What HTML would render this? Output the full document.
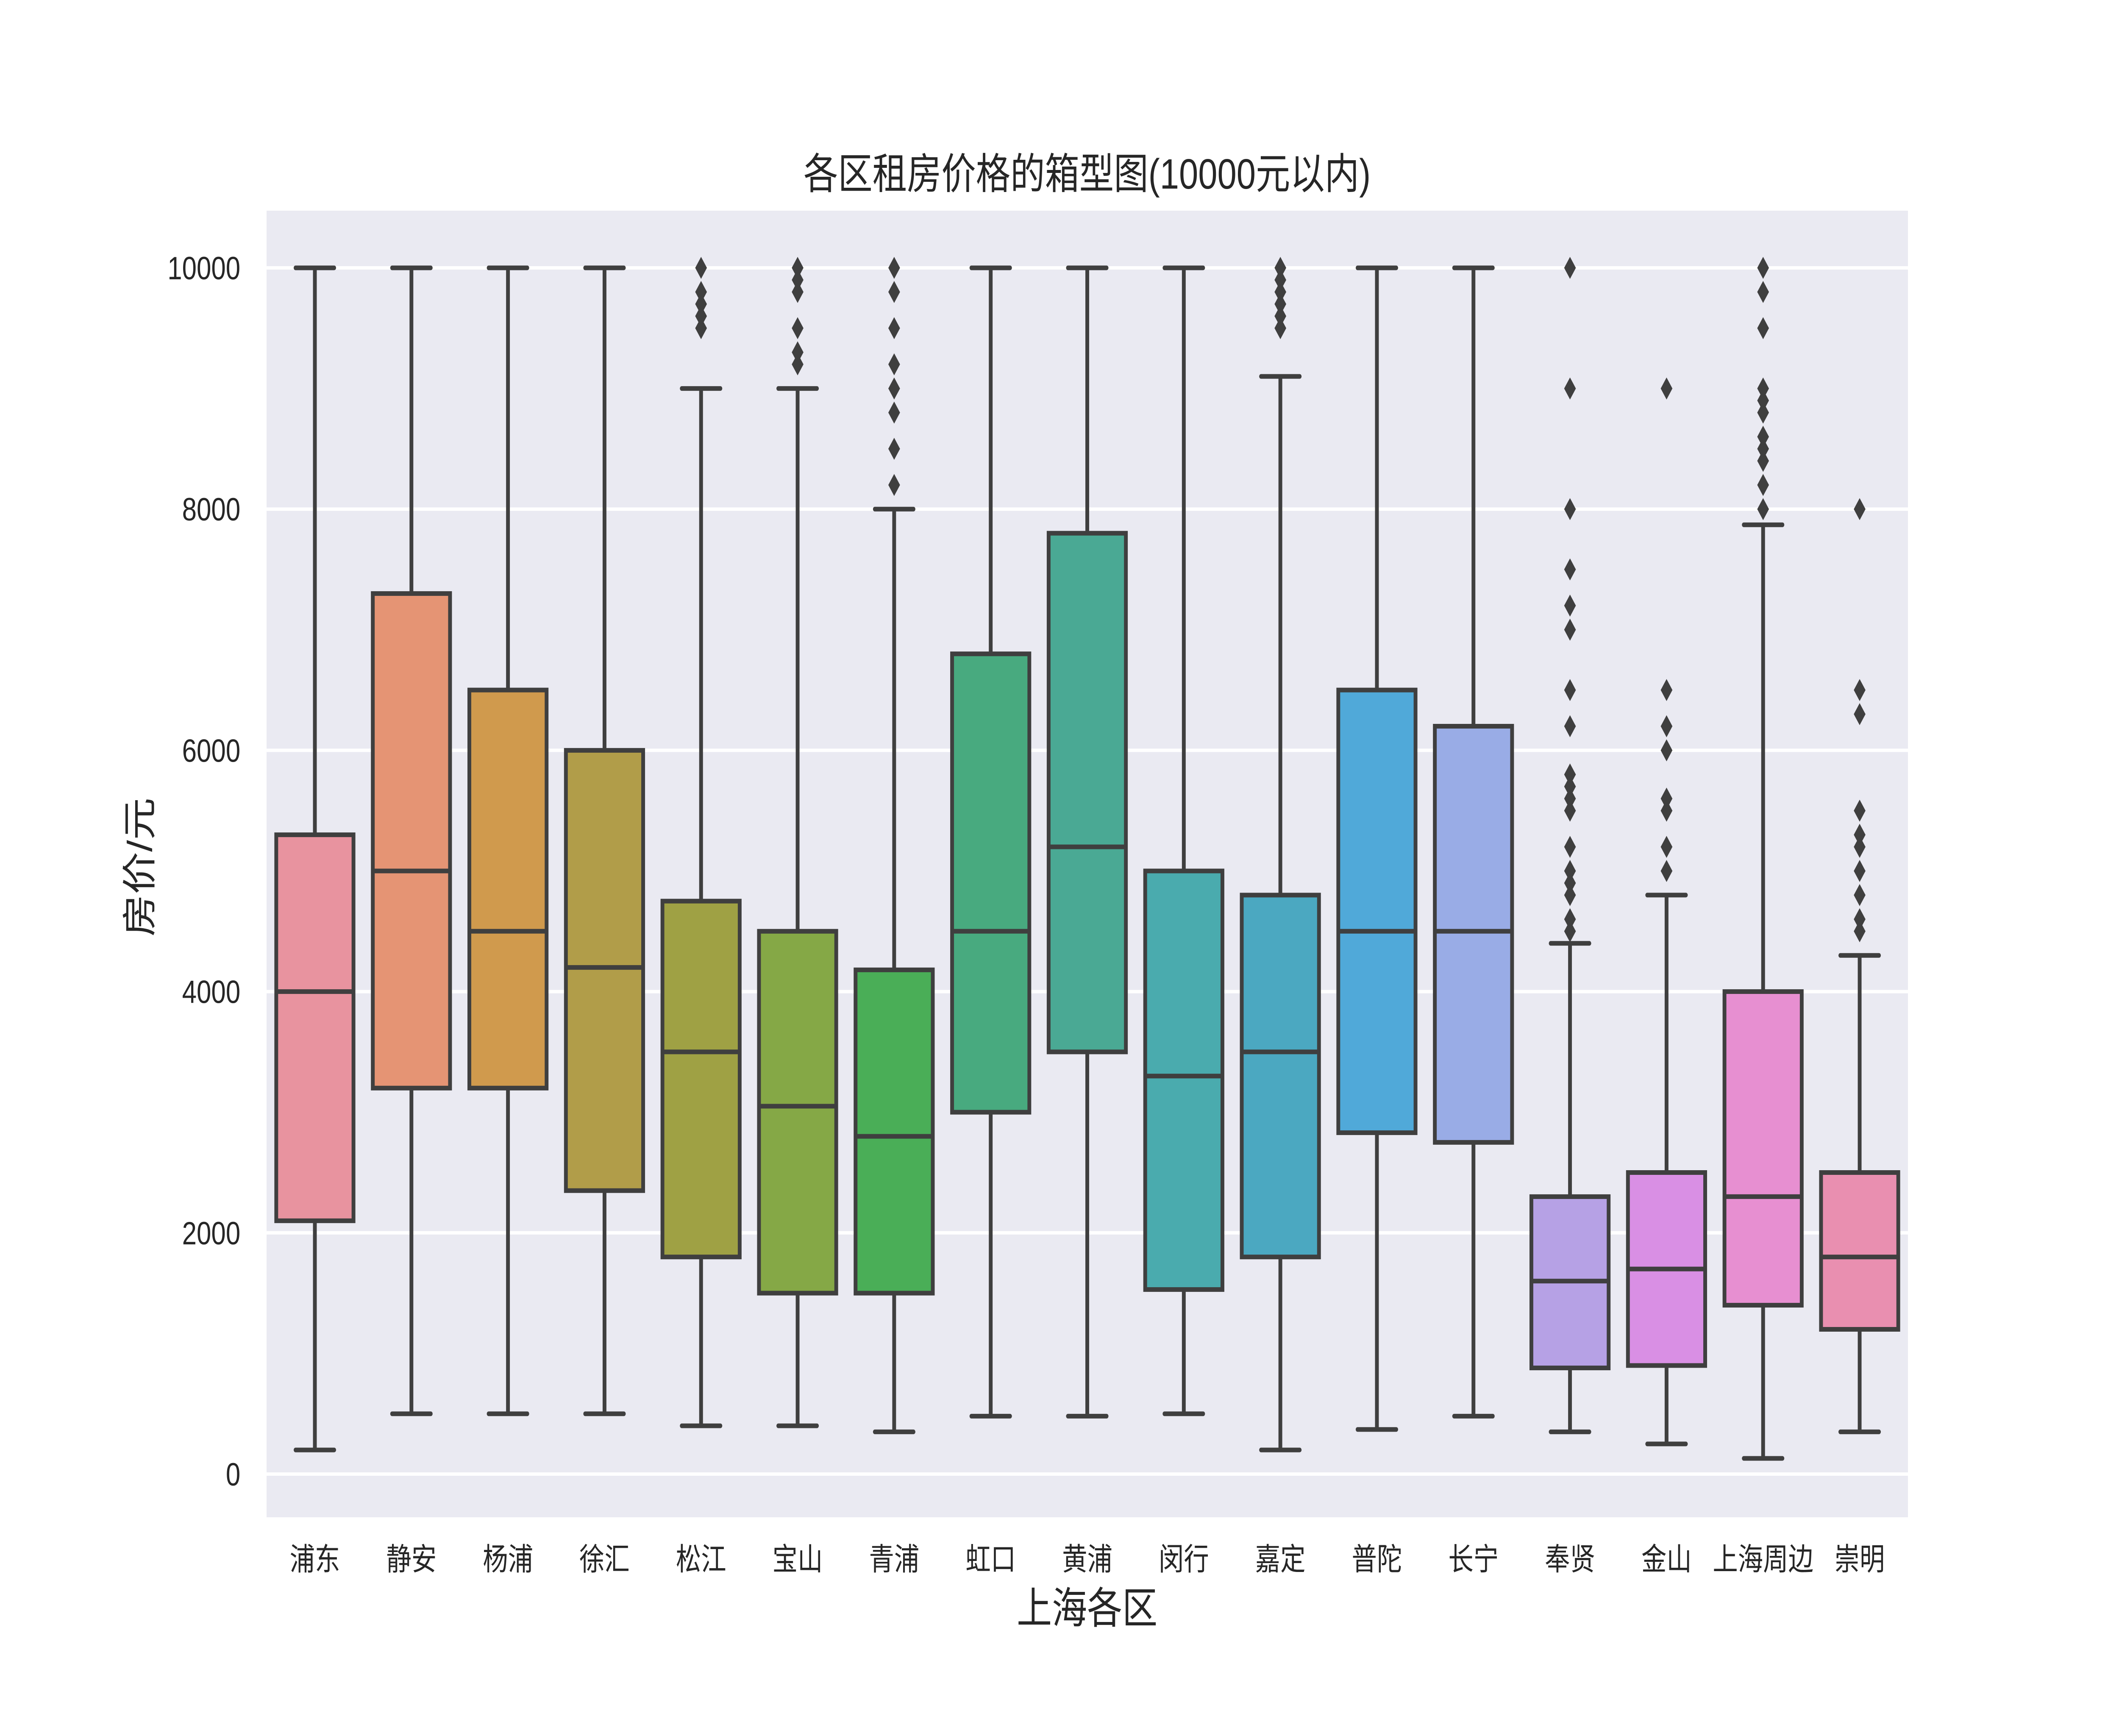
<!DOCTYPE html>
<html><head><meta charset="utf-8">
<style>
html,body{margin:0;padding:0;background:#fff;width:100%;height:100%;overflow:hidden;}
svg{display:block;width:100vw;height:100vh;}
text{font-family:"Liberation Sans","Noto Sans CJK SC",sans-serif;fill:#262626;}
</style></head>
<body>
<svg id="chart" viewBox="0 0 6144 4096" preserveAspectRatio="none" xmlns="http://www.w3.org/2000/svg">
<rect x="773" y="497" width="4759" height="3083" fill="#eaeaf2"/>
<g id="grid"></g>
<g id="boxes"></g>
<g id="yticks"></g>
<g id="xticks"></g>
<text x="3152" y="445" font-size="100" text-anchor="middle">各区租房价格的箱型图(10000元以内)</text>
<text x="3152" y="3830" font-size="102" text-anchor="middle">上海各区</text>
<text x="0" y="0" font-size="100" text-anchor="middle" transform="translate(440,2046) rotate(-90)">房价/元</text>
</svg>
<script>
const categories = ["浦东","静安","杨浦","徐汇","松江","宝山","青浦","虹口","黄浦","闵行","嘉定","普陀","长宁","奉贤","金山","上海周边","崇明"];
const whiskerLow = [200,500,500,500,400,400,350,480,480,500,200,370,480,350,250,130,350];
const q1 = [2100,3200,3200,2350,1800,1500,1500,3000,3500,1530,1800,2830,2750,880,900,1400,1200];
const median = [4000,5000,4500,4200,3500,3050,2800,4500,5200,3300,3500,4500,4500,1600,1700,2300,1800];
const q3 = [5300,7300,6500,6000,4750,4500,4180,6800,7800,5000,4800,6500,6200,2300,2500,4000,2500];
const whiskerHigh = [10000,10000,10000,10000,9000,9000,8000,10000,10000,10000,9100,10000,10000,4400,4800,7870,4300];
const outliers = [[],[],[],[],
 [9500,9600,9700,9800,10000],
 [9200,9300,9500,9800,9900,10000],
 [8200,8500,8800,9000,9200,9500,9800,10000],
 [],[],[],
 [9500,9600,9700,9800,9900,10000],
 [],[],
 [4500,4600,4800,4900,5000,5200,5500,5600,5700,5800,6200,6500,7000,7200,7500,8000,9000,10000],
 [5000,5200,5500,5600,6000,6200,6500,9000],
 [8000,8200,8400,8500,8600,8800,8900,9000,9500,9800,10000],
 [4500,4600,4800,5000,5200,5300,5500,6300,6500,8000]];
const yTicks = [0,2000,4000,6000,8000,10000];
const colors = ["#e8939f","#e59474","#d09a4d","#b19d49","#9fa144","#85a846","#4aae57","#48aa7f","#4aa994","#4aabae","#4ba8c1","#50a9d9","#99ace6","#b6a1e5","#d98fe4","#e78fd1","#e98fb0"];

const NS="http://www.w3.org/2000/svg";
const X0=773, X1=5532;
const step=(X1-X0)/categories.length;
function xPos(i){return X0+step*(i+0.5);}
function yPos(v){return 3478-(v/10000)*2846;}
function mk(tag,attrs,parent){const e=document.createElementNS(NS,tag);for(const k in attrs)e.setAttribute(k,attrs[k]);parent.appendChild(e);return e;}
const grid=document.getElementById('grid'),boxes=document.getElementById('boxes'),yt=document.getElementById('yticks'),xt=document.getElementById('xticks');
yTicks.forEach(v=>{
 const l=mk('line',{x1:X0,x2:X1,y1:yPos(v),y2:yPos(v),stroke:'#fff','stroke-width':8},grid);
 
 
 const t=mk('text',{x:697,y:yPos(v)+27,'font-size':76,'text-anchor':'end'},yt);
 t.textContent=v;
 
 
});
const LC='#3f3f3f', LW=11, BW=step*0.8;
categories.forEach((c,i)=>{
 const cx=xPos(i);
 const g=mk('g',{},boxes);
 
 
 mk('line',{x1:cx,x2:cx,y1:yPos(whiskerLow[i]),y2:yPos(q1[i]),stroke:LC,'stroke-width':LW},g);
 mk('line',{x1:cx,x2:cx,y1:yPos(q3[i]),y2:yPos(whiskerHigh[i]),stroke:LC,'stroke-width':LW},g);
 mk('line',{x1:cx-BW/4,x2:cx+BW/4,y1:yPos(whiskerLow[i]),y2:yPos(whiskerLow[i]),stroke:LC,'stroke-width':LW,'stroke-linecap':'round'},g);
 mk('line',{x1:cx-BW/4,x2:cx+BW/4,y1:yPos(whiskerHigh[i]),y2:yPos(whiskerHigh[i]),stroke:LC,'stroke-width':LW,'stroke-linecap':'round'},g);
 mk('rect',{x:cx-BW/2,y:yPos(q3[i]),width:BW,height:yPos(q1[i])-yPos(q3[i]),fill:colors[i],stroke:LC,'stroke-width':LW},g);
 mk('line',{x1:cx-BW/2,x2:cx+BW/2,y1:yPos(median[i]),y2:yPos(median[i]),stroke:LC,'stroke-width':LW},g);
 outliers[i].forEach(v=>{
  const y=yPos(v);
  const d=mk('path',{d:`M${cx} ${y-26} L${cx+17} ${y} L${cx} ${y+26} L${cx-17} ${y} Z`,fill:LC},g);
  
  
 });
 const t=mk('text',{x:cx,y:3704,'font-size':73,'text-anchor':'middle'},xt);
 t.textContent=c;
 
 
});
</script>
</body></html>
